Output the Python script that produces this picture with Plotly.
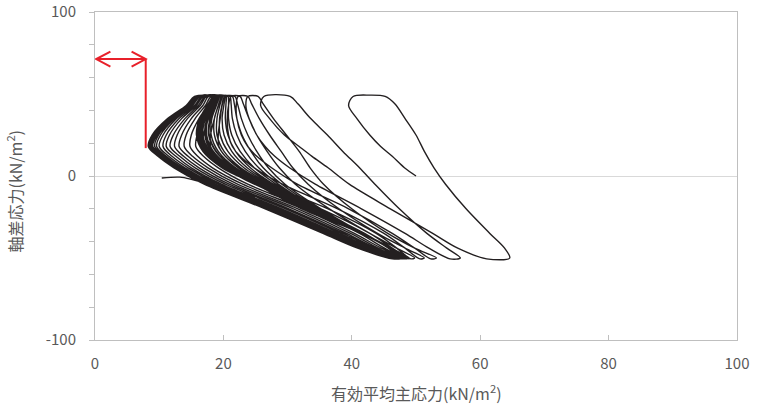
import plotly.graph_objects as go

# q levels (kN/m2) at which each loading / unloading branch is sampled
Q_LOAD = [-50.5, -44, -35, -20, -5, 5, 12, 18, 25, 35, 43, 48.5]
Q_UNLOAD = [48.5, 44, 35, 25, 15, 5, -5, -20, -35, -44, -50]

# first loading from the initial state
START_P = [50.0, 48.2, 46.3, 44.5, 42.8, 40.8, 39.5, 40.2, 42.8]
START_Q = [0, 5, 12, 18, 25, 35, 43, 48.5, 49.3]

# loading branches (cycles 2..28), p' at Q_LOAD
LOAD_P = [
    [61.0, 56.5, 52.6, 46.0, 39.6, 36.3, 33.8, 31.8, 29.5, 27.2, 25.8, 26.3],
    [55.3, 52.0, 48.3, 41.5, 34.3, 30.3, 28.0, 26.5, 25.2, 24.0, 23.5, 23.8],
    [52.3, 49.8, 46.3, 39.5, 31.5, 27.5, 25.2, 23.8, 22.8, 22.1, 22.0, 22.3],
    [50.6, 48.3, 45.0, 37.8, 29.2, 24.8, 22.6, 21.4, 20.8, 20.6, 20.8, 21.2],
    [49.2, 47.0, 43.8, 36.3, 27.0, 22.5, 20.3, 19.3, 19.2, 19.5, 19.8, 20.3],
    [48.9, 46.3, 42.8, 35.2, 25.9, 21.3, 19.1, 18.0, 18.0, 18.6, 19.2, 19.8],
    [48.6, 45.7, 42.0, 34.1, 24.8, 20.2, 18.0, 16.8, 16.9, 17.7, 18.6, 19.3],
    [48.3, 45.1, 41.2, 33.2, 23.8, 19.2, 16.9, 15.7, 15.9, 16.9, 18.1, 18.8],
    [48.1, 44.6, 40.4, 32.3, 23.0, 18.3, 16.0, 14.8, 15.0, 16.2, 17.6, 18.4],
    [47.9, 44.1, 39.8, 31.6, 22.2, 17.6, 15.2, 13.9, 14.2, 15.6, 17.2, 18.1],
    [47.7, 43.7, 39.2, 30.9, 21.5, 16.9, 14.5, 13.1, 13.5, 15.0, 16.8, 17.7],
    [47.5, 43.3, 38.7, 30.2, 20.9, 16.2, 13.8, 12.4, 12.8, 14.4, 16.4, 17.4],
    [47.3, 42.9, 38.2, 29.7, 20.3, 15.6, 13.2, 11.7, 12.2, 14.0, 16.1, 17.2],
    [47.2, 42.6, 37.7, 29.1, 19.7, 15.0, 12.6, 11.1, 11.6, 13.5, 15.8, 16.9],
    [47.0, 42.3, 37.3, 28.6, 19.2, 14.5, 12.0, 10.6, 11.1, 13.1, 15.5, 16.7],
    [46.9, 42.0, 36.9, 28.1, 18.7, 14.0, 11.5, 10.0, 10.6, 12.7, 15.2, 16.4],
    [46.8, 41.8, 36.6, 27.8, 18.4, 13.6, 11.1, 9.6, 10.2, 12.4, 15.0, 16.3],
    [46.7, 41.6, 36.4, 27.5, 18.1, 13.3, 10.8, 9.3, 9.9, 12.2, 14.9, 16.1],
    [46.6, 41.4, 36.1, 27.2, 17.8, 13.0, 10.5, 8.9, 9.6, 11.9, 14.7, 16.0],
    [46.6, 41.3, 36.0, 27.0, 17.6, 12.8, 10.3, 8.7, 9.4, 11.8, 14.6, 15.9],
    [46.5, 41.2, 35.8, 26.8, 17.4, 12.6, 10.1, 8.5, 9.2, 11.6, 14.5, 15.8],
    [46.4, 41.0, 35.6, 26.6, 17.2, 12.5, 10.0, 8.4, 9.0, 11.4, 14.3, 15.6],
    [46.8, 41.5, 36.2, 27.3, 17.9, 13.0, 10.4, 8.8, 9.5, 12.0, 14.9, 16.2],
    [46.3, 40.9, 35.5, 26.5, 17.0, 12.3, 9.8, 8.3, 8.9, 11.3, 14.2, 15.5],
    [46.7, 41.4, 36.0, 27.1, 17.6, 12.9, 10.3, 8.7, 9.3, 11.7, 14.6, 16.0],
    [46.5, 41.1, 35.7, 26.7, 17.3, 12.5, 10.0, 8.4, 9.1, 11.5, 14.4, 15.7],
    [46.9, 41.6, 36.3, 27.4, 18.0, 13.2, 10.6, 9.0, 9.7, 12.1, 15.0, 16.4],
]

# unloading branches (cycles 1..28), p' at Q_UNLOAD
UNLOAD_P = [
    [45.2, 46.7, 48.3, 50.0, 51.3, 52.8, 54.6, 57.8, 61.5, 63.8, 64.6],
    [30.4, 31.6, 33.6, 36.2, 38.6, 41.2, 43.6, 47.4, 51.7, 54.8, 56.9],
    [25.4, 26.2, 27.8, 29.8, 31.8, 33.5, 35.6, 40.0, 45.6, 49.8, 53.2],
    [23.8, 24.4, 25.6, 27.2, 29.0, 30.8, 33.2, 38.0, 44.0, 48.3, 51.3],
    [22.6, 23.1, 24.0, 25.2, 26.8, 28.7, 31.2, 36.5, 42.8, 47.0, 49.8],
    [21.8, 22.2, 22.8, 23.8, 25.2, 27.0, 29.6, 35.2, 41.8, 46.2, 48.9],
    [21.4, 21.7, 22.1, 22.9, 24.3, 26.2, 29.1, 34.9, 41.8, 46.2, 48.7],
    [21.0, 21.2, 21.4, 22.1, 23.4, 25.5, 28.6, 34.6, 41.8, 46.1, 48.6],
    [20.7, 20.8, 20.8, 21.3, 22.6, 24.8, 28.2, 34.3, 41.7, 46.1, 48.4],
    [20.4, 20.4, 20.3, 20.7, 21.9, 24.2, 27.8, 34.0, 41.7, 46.0, 48.3],
    [20.2, 20.1, 19.8, 20.1, 21.3, 23.7, 27.5, 33.8, 41.7, 46.0, 48.2],
    [19.9, 19.8, 19.4, 19.5, 20.7, 23.2, 27.2, 33.6, 41.7, 46.0, 48.0],
    [19.7, 19.5, 19.0, 19.0, 20.1, 22.7, 26.9, 33.4, 41.7, 45.9, 47.9],
    [19.5, 19.3, 18.6, 18.6, 19.7, 22.3, 26.7, 33.2, 41.7, 45.9, 47.9],
    [19.3, 19.0, 18.2, 18.1, 19.2, 21.9, 26.4, 33.1, 41.6, 45.9, 47.8],
    [19.1, 18.8, 17.9, 17.7, 18.8, 21.6, 26.2, 32.9, 41.6, 45.9, 47.7],
    [19.0, 18.6, 17.6, 17.4, 18.4, 21.2, 26.0, 32.8, 41.6, 45.9, 47.6],
    [18.8, 18.4, 17.4, 17.1, 18.1, 21.0, 25.8, 32.7, 41.6, 45.8, 47.6],
    [18.7, 18.3, 17.2, 16.8, 17.9, 20.8, 25.7, 32.6, 41.6, 45.8, 47.5],
    [18.6, 18.2, 17.0, 16.6, 17.6, 20.6, 25.6, 32.5, 41.6, 45.8, 47.5],
    [18.6, 18.1, 16.9, 16.5, 17.5, 20.4, 25.5, 32.5, 41.6, 45.8, 47.4],
    [18.5, 18.0, 16.8, 16.3, 17.3, 20.3, 25.4, 32.4, 41.6, 45.8, 47.4],
    [18.3, 17.8, 16.5, 16.0, 17.0, 20.0, 25.2, 32.3, 41.5, 45.7, 47.3],
    [18.9, 18.5, 17.6, 17.2, 18.2, 21.0, 25.9, 32.8, 41.7, 45.9, 47.6],
    [18.2, 17.6, 16.3, 15.8, 16.8, 19.8, 25.0, 32.2, 41.5, 45.7, 47.3],
    [18.7, 18.2, 17.1, 16.7, 17.7, 20.7, 25.7, 32.6, 41.6, 45.8, 47.5],
    [18.4, 17.9, 16.6, 16.1, 17.1, 20.1, 25.3, 32.3, 41.5, 45.7, 47.4],
    [19.2, 18.9, 18.0, 17.8, 18.9, 21.6, 26.3, 33.0, 41.7, 45.9, 47.7],
]

# final partial loading
TAIL_P = [46.4, 41.2, 35.9, 27.0, 17.3, 15.0, 13.2, 10.4]
TAIL_Q = [-50.5, -44, -35, -20, -4.6, -2.0, -0.7, -1.2]

# red annotation (double arrow + vertical marker)
MARK_X = 7.9
MARK_Y_TOP = 71.3
MARK_Y_BOTTOM = 17.0
ARROW_X_START = 0.2
HEAD_DX = 2.2
HEAD_DY = 4.6

X_TICKS = [0, 20, 40, 60, 80, 100]
Y_TICKS = [-100, -80, -60, -40, -20, 0, 20, 40, 60, 80, 100]
Y_TICK_TEXT = ["-100", " ", " ", " ", " ", "0", " ", " ", " ", " ", "100"]

# assemble the continuous stress path
path_p = list(START_P) + list(UNLOAD_P[0])
path_q = list(START_Q) + list(Q_UNLOAD)
for i, lp in enumerate(LOAD_P):
    path_p += lp + UNLOAD_P[i + 1]
    path_q += Q_LOAD + Q_UNLOAD
path_p += TAIL_P
path_q += TAIL_Q

FONT = "Noto Sans CJK JP"
GRAY = "#595959"
AXIS = "#bfbfbf"
RED = "#e8202a"

fig = go.Figure()
fig.add_trace(go.Scatter(
    x=path_p, y=path_q, mode="lines",
    line=dict(color="#231f20", width=1.4, shape="spline", smoothing=0.9),
    hoverinfo="skip", showlegend=False,
))

shapes = [
    dict(type="line", xref="x", yref="y", x0=ARROW_X_START, y0=MARK_Y_TOP,
         x1=MARK_X, y1=MARK_Y_TOP, line=dict(color=RED, width=2)),
    dict(type="line", xref="x", yref="y", x0=MARK_X, y0=MARK_Y_TOP,
         x1=MARK_X, y1=MARK_Y_BOTTOM, line=dict(color=RED, width=2)),
    dict(type="path", xref="x", yref="y",
         path=f"M {ARROW_X_START + HEAD_DX},{MARK_Y_TOP + HEAD_DY} L {ARROW_X_START},{MARK_Y_TOP} "
              f"L {ARROW_X_START + HEAD_DX},{MARK_Y_TOP - HEAD_DY}",
         line=dict(color=RED, width=2)),
    dict(type="path", xref="x", yref="y",
         path=f"M {MARK_X - HEAD_DX},{MARK_Y_TOP + HEAD_DY} L {MARK_X},{MARK_Y_TOP} "
              f"L {MARK_X - HEAD_DX},{MARK_Y_TOP - HEAD_DY}",
         line=dict(color=RED, width=2)),
]

fig.update_layout(
    width=758, height=406,
    margin=dict(l=95, r=21, t=12, b=66, autoexpand=False),
    paper_bgcolor="white", plot_bgcolor="white",
    font=dict(family=FONT, color=GRAY, size=15),
    shapes=shapes,
    xaxis=dict(
        range=[0, 100], tickvals=X_TICKS, ticks="inside", ticklen=5,
        tickcolor=AXIS, showline=True, linecolor=AXIS, linewidth=1, mirror=True,
        showgrid=False, zeroline=False, tickfont=dict(size=15, color=GRAY),
        ticklabelstandoff=10, fixedrange=True, automargin=False,
    ),
    yaxis=dict(
        range=[-100, 100], tickvals=Y_TICKS, ticktext=Y_TICK_TEXT, ticks="outside",
        ticklen=5, tickcolor=AXIS, showline=True, linecolor=AXIS, linewidth=1,
        mirror=True, showgrid=False, zeroline=True, zerolinecolor="#d9d9d9",
        zerolinewidth=1, tickfont=dict(size=15, color=GRAY),
        ticklabelstandoff=10, fixedrange=True, automargin=False,
    ),
    annotations=[
        dict(text="有効平均主応力(kN/m<sup>2</sup>)", xref="paper", yref="paper",
             x=0.5, y=-0.16, xanchor="center", yanchor="middle", showarrow=False,
             font=dict(size=16, color=GRAY, family=FONT)),
        dict(text="軸差応力(kN/m<sup>2</sup>)", xref="paper", yref="paper",
             x=-0.125, y=0.455, xanchor="center", yanchor="middle", showarrow=False,
             textangle=-90, font=dict(size=16, color=GRAY, family=FONT)),
    ],
)

fig.write_html(
    "out.html",
    config={"displayModeBar": False},
    post_script="document.body.style.margin='0';document.body.style.overflow='hidden';",
)
